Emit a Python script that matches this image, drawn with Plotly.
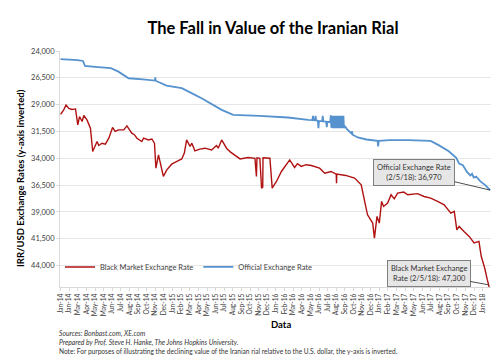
import plotly.graph_objects as go
import pandas as pd

# ---------------- data ----------------
official_dates = [
    "2014-01-01", "2014-02-01", "2014-03-01", "2014-03-20", "2014-03-27", "2014-05-01",
    "2014-06-25", "2014-07-20", "2014-08-14", "2014-08-26", "2014-10-15", "2014-11-26",
    "2014-11-27", "2014-11-28", "2015-01-05", "2015-02-27", "2015-04-14", "2015-05-07",
    "2015-07-16", "2015-08-25", "2015-11-25", "2016-03-03", "2016-05-12", "2016-05-27",
    "2016-05-29", "2016-05-31", "2016-06-05", "2016-06-07", "2016-06-09", "2016-06-15",
    "2016-06-17", "2016-06-19", "2016-06-30", "2016-07-02", "2016-07-04", "2016-07-14",
    "2016-07-16", "2016-07-18", "2016-07-28", "2016-07-30", "2016-08-01", "2016-08-03",
    "2016-08-05", "2016-08-07", "2016-08-09", "2016-08-11", "2016-08-13", "2016-08-15",
    "2016-08-17", "2016-08-19", "2016-08-21", "2016-08-23", "2016-08-25", "2016-08-27",
    "2016-08-29", "2016-08-31", "2016-09-02", "2016-09-04", "2016-09-06", "2016-09-08",
    "2016-09-10", "2016-09-12", "2016-09-14", "2016-09-17", "2016-09-25", "2016-10-09",
    "2016-10-12", "2016-10-14", "2016-11-01", "2016-12-01", "2017-01-09", "2017-01-11",
    "2017-01-13", "2017-02-20", "2017-04-24", "2017-07-13", "2017-08-11", "2017-09-14",
    "2017-10-10", "2017-10-20", "2017-11-02", "2017-11-17", "2017-11-28", "2017-12-04",
    "2017-12-10", "2017-12-18", "2018-01-02", "2018-01-20", "2018-02-05",
]
official_rate = [
    24750, 24790, 24850, 24930, 25400, 25480,
    25600, 25900, 26390, 26540, 26650, 26760,
    26450, 26770, 27220, 27470, 28090, 28400,
    29490, 29960, 30050, 30200, 30420, 30440,
    30050, 30450, 30460, 30050, 30480, 30500,
    31200, 30520, 30540, 30050, 30560, 30580,
    31100, 30600, 30620, 30000, 31150, 30050,
    31200, 30050, 31200, 30050, 31200, 30050,
    31200, 30050, 31200, 30050, 31200, 30050,
    31200, 30050, 31200, 30050, 31200, 30050,
    31200, 30050, 31200, 31000, 31300, 31660,
    31500, 31800, 32060, 32250, 32380, 32900,
    32380, 32300, 32300, 32380, 32800, 33350,
    33950, 34500, 34650, 35290, 35600, 35450,
    35790, 35700, 36160, 36530, 36970,
]

black_dates = [
    "2014-01-01", "2014-01-12", "2014-01-20", "2014-01-30", "2014-02-10", "2014-02-22",
    "2014-03-02", "2014-03-08", "2014-03-17", "2014-03-23", "2014-04-03", "2014-04-15",
    "2014-04-23", "2014-04-30", "2014-05-08", "2014-05-14", "2014-05-25", "2014-06-06",
    "2014-06-18", "2014-07-01", "2014-07-10", "2014-07-22", "2014-08-09", "2014-08-20",
    "2014-09-06", "2014-09-15", "2014-09-24", "2014-10-11", "2014-10-17", "2014-11-03",
    "2014-11-15", "2014-11-24", "2014-11-29", "2014-12-08", "2014-12-17", "2014-12-25",
    "2015-01-06", "2015-01-23", "2015-02-10", "2015-02-27", "2015-03-08", "2015-03-16",
    "2015-03-28", "2015-04-03", "2015-04-14", "2015-05-01", "2015-05-19", "2015-06-11",
    "2015-06-28", "2015-07-04", "2015-07-16", "2015-08-02", "2015-08-15", "2015-08-31",
    "2015-09-18", "2015-10-16", "2015-11-09", "2015-11-14", "2015-11-16", "2015-11-26",
    "2015-12-02", "2015-12-06", "2015-12-07", "2015-12-31", "2016-01-08", "2016-01-15",
    "2016-01-23", "2016-02-09", "2016-02-21", "2016-03-09", "2016-03-26", "2016-04-05",
    "2016-04-18", "2016-05-05", "2016-05-23", "2016-06-21", "2016-07-09", "2016-07-31",
    "2016-08-18", "2016-08-19", "2016-08-20", "2016-09-20", "2016-10-21", "2016-11-13",
    "2016-11-24", "2016-11-30", "2016-12-05", "2016-12-23", "2016-12-29", "2017-01-07",
    "2017-01-15", "2017-01-23", "2017-01-30", "2017-02-13", "2017-02-25", "2017-03-08",
    "2017-03-20", "2017-04-10", "2017-04-24", "2017-05-28", "2017-06-20", "2017-07-13",
    "2017-08-06", "2017-08-29", "2017-09-21", "2017-10-03", "2017-10-12", "2017-10-20",
    "2017-11-06", "2017-11-24", "2017-12-11", "2017-12-28", "2018-01-05", "2018-01-17",
    "2018-01-26", "2018-02-01", "2018-02-05",
]
black_rate = [
    29900, 29490, 29030, 29350, 29450, 29400,
    30890, 30110, 30570, 30010, 30420, 31200,
    33370, 32900, 32440, 32810, 32600, 32690,
    32130, 31130, 31500, 31350, 31350, 30980,
    31660, 31800, 32130, 32440, 32130, 32290,
    32200, 32590, 34920, 33680, 34610, 35690,
    35080, 34550, 34300, 34060, 33520, 32290,
    32900, 32590, 33310, 33150, 33060, 33220,
    32810, 33060, 32290, 33060, 33400, 33740,
    34060, 33930, 34000, 35690, 33950, 34000,
    36780, 36700, 33950, 34000, 36780, 36470,
    36160, 35230, 34760, 34150, 34860, 34500,
    34760, 34600, 34670, 34920, 35390, 35230,
    35480, 36320, 35480, 35600, 35850, 36480,
    37710, 38640, 39270, 40040, 41440, 39420,
    40040, 38020, 38490, 38180, 37400, 37780,
    37250, 37150, 37400, 37300, 37560, 37710,
    38020, 38340, 39110, 38950, 40670, 40350,
    40820, 41280, 41900, 41750, 43140, 44230,
    45320, 45930, 47300,
]

x_tick_labels = [
    "Jan-14", "Jan-14", "Mar-14", "Apr-14", "May-14", "May-14", "Jun-14", "Jul-14",
    "Aug-14", "Sep-14", "Oct-14", "Nov-14", "Dec-14", "Jan-15", "Feb-15", "Mar-15",
    "Apr-15", "May-15", "Jun-15", "Jul-15", "Aug-15", "Sep-15", "Oct-15", "Nov-15",
    "Dec-15", "Jan-16", "Feb-16", "Mar-16", "Apr-16", "May-16", "Jun-16", "Jul-16",
    "Aug-16", "Sep-16", "Oct-16", "Nov-16", "Dec-16", "Jan-17", "Feb-17", "Mar-17",
    "Apr-17", "May-17", "Jun-17", "Jul-17", "Aug-17", "Sep-17", "Oct-17", "Nov-17",
    "Dec-17", "Jan-18",
]
y_tick_values = [24000, 26500, 29000, 31500, 34000, 36500, 39000, 41500, 44000]

# ---------------- figure ----------------
FONT = "Lato"
RED = "#B01212"
BLUE = "#5592CE"

x_tick_vals = pd.date_range("2014-01-01", periods=len(x_tick_labels), freq="30D")

fig = go.Figure()
fig.add_trace(go.Scatter(
    x=black_dates, y=black_rate, mode="lines", name="Black Market Exchange Rate",
    line=dict(color=RED, width=1.4),
))
fig.add_trace(go.Scatter(
    x=official_dates, y=official_rate, mode="lines", name="Official Exchange Rate",
    line=dict(color=BLUE, width=1.8),
))

fig.update_layout(
    width=500, height=362,
    margin=dict(l=52, r=17, t=43, b=83, autoexpand=False),
    paper_bgcolor="white", plot_bgcolor="white",
    font=dict(family=FONT, color="#404040"),
    title=dict(text="<b>The Fall in Value of the Iranian Rial</b>",
               x=0.53, xanchor="center", y=0.945, yanchor="middle",
               font=dict(size=16.5, color="#000000", family=FONT)),
    showlegend=True,
    legend=dict(orientation="h", x=0.0, y=0.085, xanchor="left", yanchor="middle",
                font=dict(size=7.5, color="#404040"), bgcolor="rgba(0,0,0,0)",
                tracegroupgap=0),
)

fig.update_xaxes(
    type="date", range=["2013-12-30", "2018-02-08"], automargin=False,
    tickmode="array", tickvals=x_tick_vals, ticktext=x_tick_labels,
    tickangle=-90, tickfont=dict(size=6.6, color="#404040"),
    showgrid=False, showline=True, linecolor="#d9d9d9", linewidth=1,
    ticks="outside", ticklen=3, tickcolor="#d9d9d9",
)
fig.update_yaxes(
    range=[46000, 24000], automargin=False,
    tickmode="array", tickvals=y_tick_values, tickformat=",d",
    tickfont=dict(size=7.5, color="#404040"),
    showgrid=True, gridcolor="#e6e6e6", gridwidth=1,
    showline=True, linecolor="#d9d9d9", linewidth=1,
    ticks="outside", ticklen=3, tickcolor="#d9d9d9", zeroline=False,
)

annotations = [
    dict(x="2018-02-05", y=36970, xref="x", yref="y",
         text="Official Exchange Rate<br>(2/5/18): 36,970",
         showarrow=True, arrowhead=0, arrowwidth=0.8, arrowcolor="#222222",
         ax=-76, ay=-18, font=dict(size=7.5, color="#333333"),
         bgcolor="#e7e6e6", bordercolor="#7f7f7f", borderwidth=1, borderpad=3),
    dict(x="2018-01-31", y=45800, xref="x", yref="y",
         text="Black Market Exchange<br>Rate (2/5/18): 47,300",
         showarrow=True, arrowhead=0, arrowwidth=0.8, arrowcolor="#222222",
         ax=-60, ay=-11, font=dict(size=7.5, color="#333333"),
         bgcolor="#e7e6e6", bordercolor="#7f7f7f", borderwidth=1, borderpad=3),
    dict(x=-0.0905, y=0.462, xref="paper", yref="paper", xanchor="center",
         yanchor="middle", textangle=-90,
         text="<b>IRR/USD Exchange Rates (y-axis inverted)</b>", showarrow=False,
         font=dict(size=9.5, color="#000000")),
    dict(x=0.513, y=-0.158, xref="paper", yref="paper", xanchor="center",
         yanchor="middle", text="<b>Data</b>",
         showarrow=False, font=dict(size=9.5, color="#000000")),
    dict(x=-0.007, y=-0.197, xref="paper", yref="paper", xanchor="left",
         yanchor="middle", text="<i>Sources: Bonbast.com, XE.com</i>", showarrow=False,
         font=dict(size=6.8, color="#333333")),
    dict(x=-0.007, y=-0.235, xref="paper", yref="paper", xanchor="left",
         yanchor="middle",
         text="<i>Prepared by Prof. Steve H. Hanke, The Johns Hopkins University.</i>",
         showarrow=False, font=dict(size=6.8, color="#333333")),
    dict(x=-0.007, y=-0.273, xref="paper", yref="paper", xanchor="left",
         yanchor="middle",
         text="Note: For purposes of illustrating the declining value of the Iranian rial "
              "relative to the U.S. dollar, the y-axis is inverted.",
         showarrow=False, font=dict(size=6.6, color="#333333")),
]
fig.update_layout(annotations=annotations)

fig.write_html("out.html")
